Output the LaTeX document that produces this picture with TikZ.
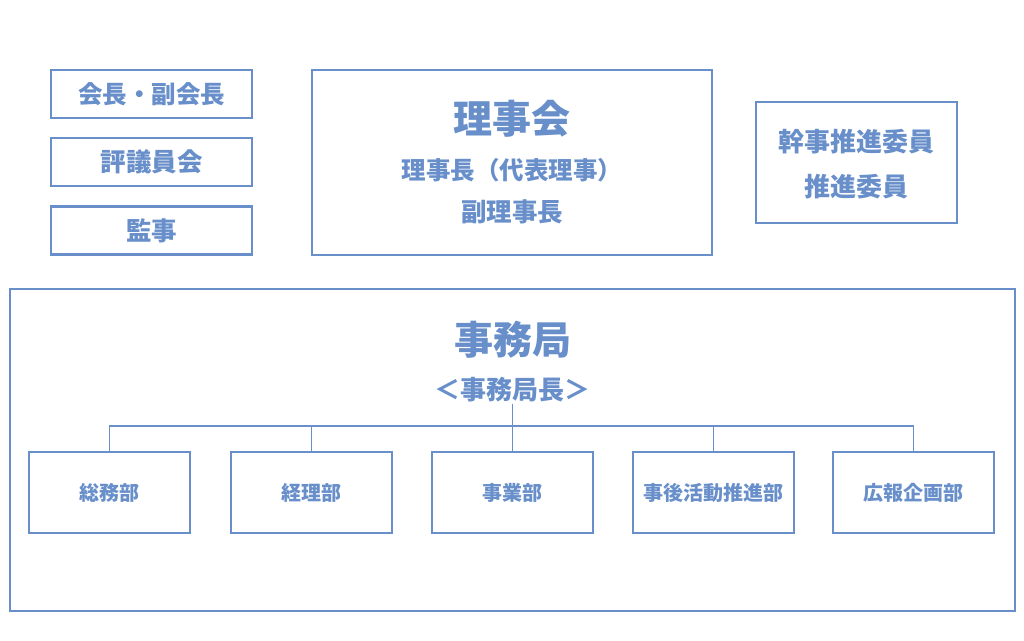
\documentclass[tikz,border=0pt]{standalone}
\usepackage{fontspec}
\setmainfont{Noto Sans CJK JP}
\definecolor{orgblue}{RGB}{104,143,202}
\tikzset{
  box/.style={draw=orgblue, line width=2.4pt, rectangle, inner sep=0pt},
  label/.style={text=orgblue, font=\bfseries, inner sep=1pt},
  link/.style={draw=orgblue, line width=1.3pt}
}
\begin{document}
\begin{tikzpicture}[x=1pt, y=-1pt]
			\useasboundingbox (0,0) rectangle (1024,640);
			\node	(kaicho) at (151.5,94) [box, minimum width=201pt, minimum height=48pt, label, font=\fontsize{24.5}{26}\selectfont\bfseries] {会長・副会長};
			\node	(hyogi) at (151.5,162) [box, minimum width=201pt, minimum height=48pt, label, font=\fontsize{25.5}{26}\selectfont\bfseries] {評議員会};
			\node	(kanji) at (151.5,230.5) [box, minimum width=201pt, minimum height=48pt, label, font=\fontsize{25.5}{26}\selectfont\bfseries] {監事};
			\node	(rijikai) at (512,162.5) [box, minimum width=400pt, minimum height=185pt] {};
			\node	(rijikaiT) at (512,119) [label, font=\fontsize{39}{40}\selectfont\bfseries] {理事会};
			\node	(rijicho) at (512,170) [label, font=\fontsize{24.5}{26}\selectfont\bfseries] {理事長（代表理事）};
			\node	(fukuriji) at (512,212) [label, font=\fontsize{25.5}{26}\selectfont\bfseries] {副理事長};
			\node	(suishin) at (856.5,162.5) [box, minimum width=201pt, minimum height=121pt] {};
			\node	(kanjiiin) at (856,142) [label, font=\fontsize{26}{28}\selectfont\bfseries] {幹事推進委員};
			\node	(suishiniin) at (856,187) [label, font=\fontsize{26}{28}\selectfont\bfseries] {推進委員};
			\node	(jimu) at (512.5,450) [box, minimum width=1005pt, minimum height=322pt] {};
			\node	(jimuT) at (512.5,340) [label, font=\fontsize{39}{40}\selectfont\bfseries] {事務局};
			\node	(jimucho) at (512.5,390) [label, font=\fontsize{26}{28}\selectfont\bfseries] {＜事務局長＞};
			\node	(somu) at (109.5,492.5) [box, minimum width=161pt, minimum height=81pt, label, font=\fontsize{20}{22}\selectfont\bfseries] {総務部};
			\node	(keiri) at (311.5,492.5) [box, minimum width=161pt, minimum height=81pt, label, font=\fontsize{20}{22}\selectfont\bfseries] {経理部};
			\node	(jigyo) at (512.5,492.5) [box, minimum width=161pt, minimum height=81pt, label, font=\fontsize{20}{22}\selectfont\bfseries] {事業部};
			\node	(jigo) at (713.5,492.5) [box, minimum width=161pt, minimum height=81pt, label, font=\fontsize{20}{22}\selectfont\bfseries] {事後活動推進部};
			\node	(koho) at (913.5,492.5) [box, minimum width=161pt, minimum height=81pt, label, font=\fontsize{20}{22}\selectfont\bfseries] {広報企画部};
			\coordinate (bus) at (512.5,426);
			\draw[link]
			(jimucho.south) -- (jigyo.north)
			(somu.north) |- (bus) -| (koho.north)
			(keiri.north) -- (keiri.north |- bus)
			(jigo.north) -- (jigo.north |- bus)
			;
		\end{tikzpicture}
\end{document}
